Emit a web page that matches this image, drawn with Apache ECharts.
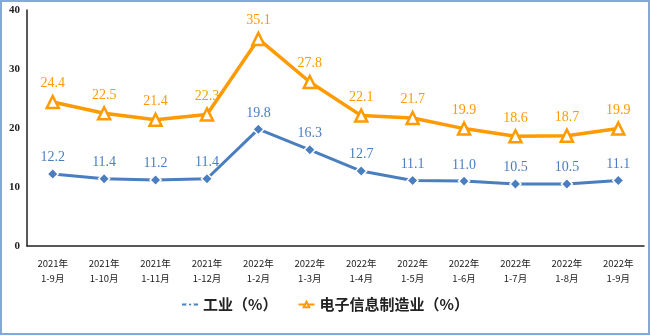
<!DOCTYPE html>
<html>
<head>
<meta charset="utf-8">
<script src="https://cdn.jsdelivr.net/npm/echarts@6/dist/echarts.min.js"></script>
<style>
  html, body { margin: 0; padding: 0; background: #fff; }
  #frame { position: absolute; left: 0; top: 0; width: 646px; height: 331px; border: 2px solid #86a8d8; }
  #chart { width: 650px; height: 335px; position: absolute; left: 0; top: 0; }
</style>
</head>
<body>
<div id="frame"></div>
<div id="chart"></div>
<script>
// Cumulative year-on-year growth of value added, by period
const periods = [
  '2021年\n1-9月', '2021年\n1-10月', '2021年\n1-11月', '2021年\n1-12月',
  '2022年\n1-2月', '2022年\n1-3月', '2022年\n1-4月', '2022年\n1-5月',
  '2022年\n1-6月', '2022年\n1-7月', '2022年\n1-8月', '2022年\n1-9月'
];
const industry = [12.2, 11.4, 11.2, 11.4, 19.8, 16.3, 12.7, 11.1, 11.0, 10.5, 10.5, 11.1];
const electronics = [24.4, 22.5, 21.4, 22.3, 35.1, 27.8, 22.1, 21.7, 19.9, 18.6, 18.7, 19.9];
const yTicks = { min: 0, max: 40, interval: 10 };

const BLUE = '#4a7ebf';
const ORANGE = '#ff9a00';
const serif = '"Liberation Serif", "DejaVu Serif", serif';
const cjk = '"Noto Sans CJK SC", sans-serif';

const chart = echarts.init(document.getElementById('chart'), null, { renderer: 'canvas' });
chart.setOption({
  animation: false,
  backgroundColor: 'transparent',
  grid: { left: 27, right: 6, top: 10, bottom: 89 },
  legend: {
    bottom: 18,
    left: 'center',
    itemGap: 20,
    itemWidth: 16,
    itemHeight: 7,
    textStyle: { fontFamily: cjk, fontSize: 15, fontWeight: 'bold', color: '#222' },
    data: ['工业（%）', '电子信息制造业（%）']
  },
  xAxis: {
    type: 'category',
    data: periods,
    boundaryGap: true,
    axisLine: { lineStyle: { color: '#222', width: 1.5 } },
    axisTick: { show: false },
    axisLabel: {
      interval: 0,
      margin: 10,
      fontFamily: cjk,
      fontSize: 9.5,
      lineHeight: 15,
      color: '#222'
    }
  },
  yAxis: {
    type: 'value',
    min: yTicks.min,
    max: yTicks.max,
    interval: yTicks.interval,
    axisLine: { show: true, lineStyle: { color: '#222', width: 1.5 } },
    axisTick: { show: false },
    splitLine: { show: false },
    axisLabel: {
      margin: 7,
      fontFamily: serif,
      fontWeight: 'bold',
      fontSize: 11,
      color: '#222'
    }
  },
  series: [
    {
      name: '工业（%）',
      type: 'line',
      data: industry,
      symbol: 'diamond',
      symbolSize: 11,
      lineStyle: { color: BLUE, width: 3 },
      itemStyle: { color: BLUE, borderColor: '#fff', borderWidth: 1.5 },
      label: {
        show: true,
        position: 'top',
        distance: 3,
        fontFamily: serif,
        fontSize: 14,
        color: BLUE,
        formatter: p => p.value.toFixed(1)
      }
    },
    {
      name: '电子信息制造业（%）',
      type: 'line',
      data: electronics,
      symbol: 'triangle',
      symbolSize: 12,
      lineStyle: { color: ORANGE, width: 3.5 },
      itemStyle: { color: '#fff', borderColor: ORANGE, borderWidth: 2.5 },
      label: {
        show: true,
        position: 'top',
        distance: 4,
        fontFamily: serif,
        fontSize: 14,
        color: ORANGE,
        formatter: p => p.value.toFixed(1)
      }
    }
  ]
});
</script>
</body>
</html>
